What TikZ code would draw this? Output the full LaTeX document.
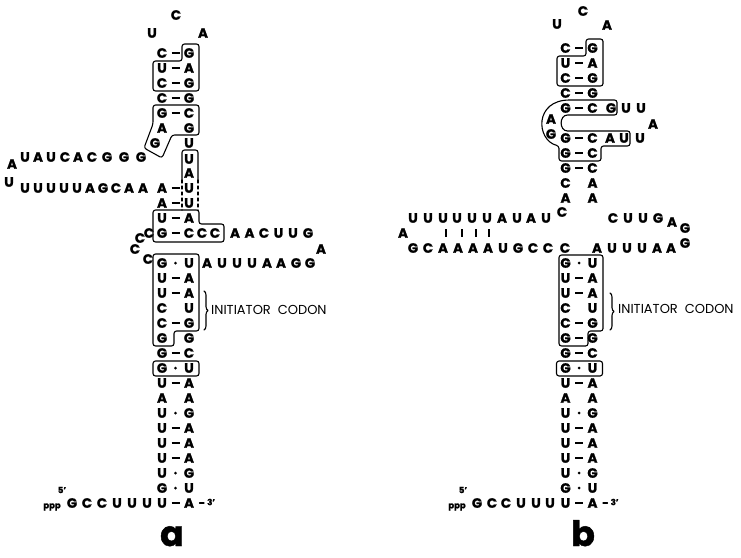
\documentclass[tikz,border=0pt]{standalone}
\usepackage{fontspec}
\setmainfont{Poppins}[BoldFeatures={FakeBold=1.2}]
\usetikzlibrary{decorations.pathreplacing}
\newcommand{\ntfont}{\fontsize{13.5}{13.5}\selectfont\bfseries}
\tikzset{
  nt/.style={font=\ntfont,inner sep=0pt},
  tag/.style={font=\fontsize{8.5}{8.5}\selectfont\bfseries,inner sep=0pt},
  note/.style={font=\fontsize{13}{13}\selectfont,inner sep=0pt,anchor=west},
  panel/.style={font=\fontsize{35}{35}\selectfont\bfseries,inner sep=0pt,anchor=base},
  frame/.style={line width=1.1pt,rounded corners=2.5pt},
  bondline/.style={line width=1.6pt,line cap=butt},
  codon/.style={line width=1.1pt,decorate,decoration={brace,amplitude=4pt}},
}
\newcommand{\bondd}[2]{\draw[bondline] (#1-4,#2) -- (#1+4,#2);}
\newcommand{\bondo}[2]{\fill (#1,#2) circle (1.5pt);}
\newcommand{\bondn}[2]{}
\begin{document}
\begin{tikzpicture}[x=1pt,y=-1pt,line join=round,line cap=round]
\useasboundingbox (0,0) rectangle (741,557);

% lower stem, same in a and b
\foreach \dx/\p in {0/a,403.5/b}{
  \foreach \y/\l/\s/\r [count=\i] in {263/G/o/U,278/U/d/A,293/U/d/A,308/C/n/U,323/C/d/G,353/G/d/C,368/G/o/U,383/U/d/A,398/A/n/A,413/U/o/G,428/U/d/A,443/U/d/A,458/U/d/A,473/U/o/G,488/G/o/U,503/U/d/A}{
    \node[nt] (\p-s\i-l) at (162+\dx,\y) {\l};
    \node[nt] (\p-s\i-r) at (189+\dx,\y) {\r};
    \csname bond\s\endcsname{175.5+\dx}{\y}
  }
  \node[nt] (\p-gl) at (162+\dx,338) {G};
  \node[nt] (\p-gr) at (189+\dx,338) {G};
  \draw[line width=1.2pt] (199.5+\dx,503) -- (204+\dx,503);
  \node[tag,anchor=west] (\p-3) at (207+\dx,502) {3'};
  \draw[frame] (153+\dx,361) rectangle (199+\dx,376);
}

% ---- a ----
\node[nt] (aC) at (176,15) {C};
\node[nt] (aU) at (152,33) {U};
\node[nt] (aA) at (203,33) {A};
\foreach \y/\l/\s/\r [count=\i] in {53/C/d/G,68/U/d/A,83/C/d/G,98/C/d/G,113/G/d/C,128/A/n/G,188/A/d/U,203/A/d/U,218/U/d/A,233/G/d/C}{
  \node[nt] (aL\i) at (162,\y) {\l};
  \node[nt] (aR\i) at (189,\y) {\r};
  \csname bond\s\endcsname{175.5}{\y}
}
\node[nt] (aG) at (155,143) {G};
\node[nt] (aRU) at (189,143) {U};
\node[nt] (aU1) at (189,159) {U};
\node[nt] (aA1) at (189,173) {A};
\node[nt] (aEnd) at (12,164) {A};
\foreach \x/\c [count=\i] in {25/U,38/A,51/U,65/C,78/A,92/C,107/G,124/G,141/G}
  \node[nt] (aT\i) at (\x,157) {\c};
\node[nt] (aB0) at (9,182) {U};
\foreach \x/\c [count=\i] in {25/U,38/U,51/U,64/U,77/U,90/A,103/G,116/C,129/A,143/A}
  \node[nt] (aB\i) at (\x,188) {\c};
\foreach \x/\c [count=\i] in {202/C,215/C,235/A,249.5/A,264/C,278.5/U,293/U,308/G}
  \node[nt] (aK\i) at (\x,233) {\c};
\node[nt] (aKA) at (321,249) {A};
\foreach \x/\y [count=\i] in {140/238,149/233,135/249,148/259}
  \node[nt] (aLp\i) at (\x,\y) {C};
\foreach \x/\c [count=\i] in {207/A,222/U,237/U,252/U,267/A,281/A,296/G,310/G}
  \node[nt] (aM\i) at (\x,263) {\c};
\node[tag] (a5) at (62,490) {5'};
\node[tag] (appp) at (52,507) {ppp};
\foreach \x/\c [count=\i] in {72/G,87/C,102/C,117/U,132/U,147/U}
  \node[nt] (aP\i) at (\x,503) {\c};
\node[panel] (alab) at (172,546) {a};

\draw[frame] (182,44) -- (199,44) -- (199,91) -- (153,91) -- (153,61) -- (182,61) -- cycle;
\draw[frame] (153,105) -- (199,105) -- (199,135) -- (172,135) -- (162,158) -- (144,148) -- (153,124) -- cycle;
\draw[frame] (182,180) -- (182,150) -- (198,150) -- (198,180);
\draw[frame,dashed] (182,180) -- (182,210) (198,180) -- (198,210);
\draw[frame] (153,210) -- (199,210) -- (199,224) -- (224,224) -- (224,242) -- (153,242) -- cycle;
\draw[frame] (153,254) -- (199,254) -- (199,331) -- (174,331) -- (174,346) -- (153,346) -- cycle;
\draw[codon] (204,291) -- (204,330);
\node[note] (acod) at (211,310) {INITIATOR\ \ CODON};

% ---- b ----
\node[nt] (bC) at (583,11) {C};
\node[nt] (bU) at (557,24) {U};
\node[nt] (bA) at (607,25) {A};
\foreach \y/\l/\s/\r [count=\i] in {48/C/d/G,63/U/d/A,78/C/d/G,93/C/d/G,108/G/d/C,138/G/d/C,153/G/d/C,168/G/d/C,183/C/n/A,198/A/n/A}{
  \node[nt] (bL\i) at (565.5,\y) {\l};
  \node[nt] (bR\i) at (592.5,\y) {\r};
  \csname bond\s\endcsname{579}{\y}
}
\bondd{579}{338}
\foreach \x/\c [count=\i] in {611/G,626/U,641/U}
  \node[nt] (bH\i) at (\x,108) {\c};
\foreach \x/\c [count=\i] in {610/A,624/U,640/U}
  \node[nt] (bJ\i) at (\x,138) {\c};
\node[nt] (bHA) at (653,124) {A};
\node[nt] (bLA) at (551,119) {A};
\node[nt] (bLG) at (551,134) {G};
\foreach \x/\c [count=\i] in {413/U,428/U,443/U,457/U,472/U,487/U,502/A,517/U,531/A,546/U}
  \node[nt] (bT\i) at (\x,218) {\c};
\node[nt] (bTC) at (562,212) {C};
\foreach \x/\c [count=\i] in {613/C,628/U,643/U,658/G}
  \node[nt] (bQ\i) at (\x,218) {\c};
\node[nt] (bQA) at (672,222) {A};
\node[nt] (bQG) at (685,228) {G};
\node[nt] (bEnd) at (403,233) {A};
\foreach \x in {446,462,476,489}
  \draw[line width=1.5pt,line cap=butt] (\x,229) -- (\x,237);
\foreach \x/\c [count=\i] in {413/G,428/C,443/A,458/A,473/A,488/A,503/U,518/G,533/C,548/C,565/C}
  \node[nt] (bB\i) at (\x,248) {\c};
\foreach \x/\c [count=\i] in {597/A,612/U,627/U,642/U,657/A,671/A}
  \node[nt] (bN\i) at (\x,248) {\c};
\node[nt] (bNG) at (685,243) {G};
\node[tag] (b5) at (463,490) {5'};
\node[tag] (bppp) at (457,507) {ppp};
\foreach \x/\c [count=\i] in {477/G,492/C,506/C,521/U,536/U,550/U}
  \node[nt] (bP\i) at (\x,503) {\c};
\node[panel] (blab) at (583,546) {b};

\draw[frame] (586,39) -- (603,39) -- (603,86) -- (557,86) -- (557,56) -- (586,56) -- cycle;
\draw[frame] (617,100) -- (617,115) -- (570,115) .. controls (559,115) and (559,131) .. (570,131)
  -- (630,131) -- (630,146) -- (601,146) -- (601,161) -- (559,161) -- (559,146)
  .. controls (536,140) and (534,100) .. (572,100) -- cycle;
\draw[frame] (559,255) -- (603,255) -- (603,331) -- (588,331) -- (588,346) -- (559,346) -- cycle;
\draw[codon] (610,293) -- (610,330);
\node[note] (bcod) at (618,309) {INITIATOR\ \ CODON};
\end{tikzpicture}
\end{document}
